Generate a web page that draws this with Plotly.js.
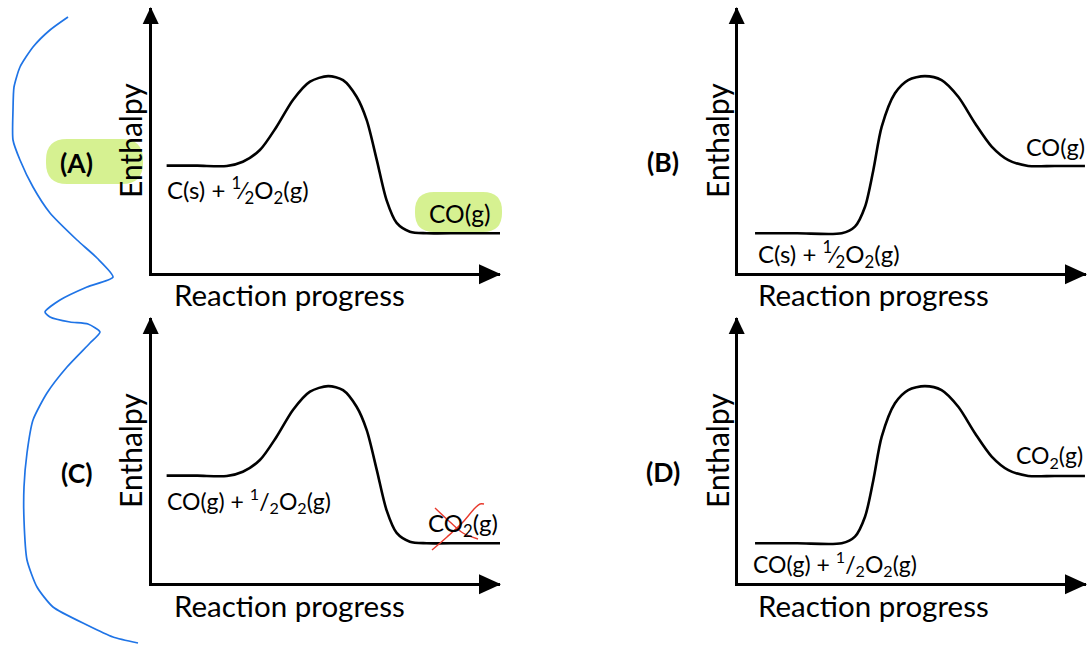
<!DOCTYPE html>
<html><head><meta charset="utf-8">
<script src="https://cdn.plot.ly/plotly-3.0.1.min.js"></script>
<style>html,body{margin:0;padding:0;background:#fff}</style>
</head><body><div id="chart" style="width:1087px;height:645px"></div>
<script>
// ---------- data ----------
const panelLetters = ['(A)', '(B)', '(C)', '(D)'];
const reactantLabels = ['C(s) + <sup>1</sup>⁄<sub>2</sub>O<sub>2</sub>(g)', 'C(s) + <sup>1</sup>⁄<sub>2</sub>O<sub>2</sub>(g)',
  'CO(g) + <sup>1</sup>/<sub>2</sub>O<sub>2</sub>(g)', 'CO(g) + <sup>1</sup>/<sub>2</sub>O<sub>2</sub>(g)'];
const productLabels = ['CO(g)', 'CO(g)', 'CO<sub>2</sub>(g)', 'CO<sub>2</sub>(g)'];
const xAxisLabel = 'Reaction progress';
const yAxisLabel = 'Enthalpy';

// exothermic-looking profile (panels A and C)
const exoProgress = [0.42, 1.30, 2.15, 2.61, 3.10, 3.58, 4.05, 4.54, 5.06, 5.49, 5.88, 6.17, 6.46, 6.74, 7.03, 7.41, 7.89, 8.90, 10.0];
const exoEnthalpy = [4.05, 4.05, 4.04, 4.20, 4.64, 5.52, 6.53, 7.22, 7.43, 7.28, 6.65, 5.77, 4.26, 2.75, 1.89, 1.56, 1.50, 1.50, 1.50];
// endothermic-looking profile (panels B and D)
const endoProgress = [0.49, 1.70, 2.98, 3.36, 3.65, 3.89, 4.13, 4.51, 4.89, 5.37, 5.85, 6.33, 6.81, 7.29, 7.77, 8.34, 9.10, 9.97];
const endoEnthalpy = [1.50, 1.50, 1.50, 1.75, 2.50, 3.89, 5.52, 6.78, 7.28, 7.43, 7.28, 6.65, 5.65, 4.77, 4.26, 4.04, 4.04, 4.04];

// hand-drawn blue bracket (page pixel units)
const scribbleX = [68, 50, 33, 20, 14, 13, 13, 20, 33, 50, 77, 97, 113, 87, 60, 45, 50, 70, 88, 100, 90, 67, 47, 33, 27, 24, 24, 27, 37, 53, 87, 113, 138];
const scribbleY = [17, 30, 47, 67, 87, 110, 140, 160, 187, 213, 240, 258, 277, 287, 300, 312, 317, 322, 324, 332, 343, 367, 393, 420, 453, 487, 520, 560, 587, 607, 625, 637, 643];
// red strike-out marks over CO2(g) in panel C (page pixel units)
const strike1X = [435, 450, 463, 478];
const strike1Y = [508, 522, 533, 539];
const strike2X = [432, 447, 463, 475, 480, 484];
const strike2Y = [550, 537, 522, 508, 504, 504];

// ---------- layout helpers ----------
const W = 1087, H = 645;
const px = x => x / W, py = y => 1 - y / H;
const FONT = 'Lato, "Open Sans", sans-serif';

// panel geometry: y-axis x position, x-axis y position, x-axis tip, y-axis tip
const panels = [
  {ax: 152, ay: 273, xt: 500, yt: 8, profile: 'exo'},
  {ax: 738, ay: 273, xt: 1086, yt: 8, profile: 'endo'},
  {ax: 152, ay: 583, xt: 500, yt: 318, profile: 'exo'},
  {ax: 738, ay: 583, xt: 1086, yt: 318, profile: 'endo'}
];
const letterPos = [[76, 163], [663, 162], [77, 473], [663, 472]];
const titleXPos = [[172, 295], [756, 295], [172, 605], [756, 605]];
const titleYPos = [[130, 141], [717, 141], [130, 451], [717, 451]];
const reactPos = [[165, 190], [756, 254], [165, 500], [751, 563]];
const reactSize = [24, 24, 23, 23];
const prodPos = [[427, 214], [1024, 147], [426, 524], [1014, 457]];
const prodSize = [24.5, 23.5, 24, 23];

const traces = [];
const layout = {
  width: W, height: H,
  margin: {l: 0, r: 0, t: 0, b: 0},
  paper_bgcolor: '#ffffff', plot_bgcolor: 'rgba(0,0,0,0)',
  showlegend: false,
  annotations: [], shapes: []
};

const LW = 2.6;
panels.forEach((p, i) => {
  const n = i + 1;
  const xa = 'xaxis' + (n === 1 ? '' : n), ya = 'yaxis' + (n === 1 ? '' : n);
  const xr = 'x' + (n === 1 ? '' : n), yr = 'y' + (n === 1 ? '' : n);
  layout[xa] = {domain: [px(p.ax), px(p.xt)], range: [0, 10], anchor: yr,
    showline: true, linewidth: LW, linecolor: '#000', showgrid: false, zeroline: false,
    showticklabels: false, ticks: '', fixedrange: true};
  layout[ya] = {domain: [py(p.ay), py(p.yt)], range: [0, 10], anchor: xr,
    showline: true, linewidth: LW, linecolor: '#000', showgrid: false, zeroline: false,
    showticklabels: false, ticks: '', fixedrange: true};
  const exo = p.profile === 'exo';
  traces.push({type: 'scatter', mode: 'lines', xaxis: xr, yaxis: yr,
    x: exo ? exoProgress : endoProgress, y: exo ? exoEnthalpy : endoEnthalpy,
    line: {color: '#000', width: LW, shape: 'spline', smoothing: 0.8}, hoverinfo: 'skip'});
  // arrow heads (paper refs so they are not clipped)
  layout.shapes.push({type: 'path', xref: 'paper', yref: 'paper', xsizemode: 'pixel', ysizemode: 'pixel',
    xanchor: px(p.xt), yanchor: py(p.ay + LW / 2), path: 'M1,0 L-21,10 L-21,-10 Z', fillcolor: '#000', line: {width: 0}});
  layout.shapes.push({type: 'path', xref: 'paper', yref: 'paper', xsizemode: 'pixel', ysizemode: 'pixel',
    xanchor: px(p.ax - LW / 2), yanchor: py(p.yt), path: 'M0,1 L-8,-16 L8,-16 Z', fillcolor: '#000', line: {width: 0}});
  // text
  layout.annotations.push({xref: 'paper', yref: 'paper', x: px(titleXPos[i][0]), y: py(titleXPos[i][1]),
    xanchor: 'left', yanchor: 'middle', showarrow: false, text: xAxisLabel,
    font: {family: FONT, size: 29.5, color: '#000'}});
  layout.annotations.push({xref: 'paper', yref: 'paper', x: px(titleYPos[i][0]), y: py(titleYPos[i][1]),
    xanchor: 'center', yanchor: 'middle', showarrow: false, text: yAxisLabel, textangle: -90,
    font: {family: FONT, size: 30, color: '#000'}});
  layout.annotations.push({xref: 'paper', yref: 'paper', x: px(letterPos[i][0]), y: py(letterPos[i][1]),
    xanchor: 'center', yanchor: 'middle', showarrow: false, text: '<b>' + panelLetters[i] + '</b>',
    font: {family: FONT, size: 26.5, color: '#000'}});
  layout.annotations.push({xref: 'paper', yref: 'paper', x: px(reactPos[i][0]), y: py(reactPos[i][1]),
    xanchor: 'left', yanchor: 'middle', showarrow: false, text: reactantLabels[i],
    font: {family: FONT, size: reactSize[i], color: '#000'}});
  layout.annotations.push({xref: 'paper', yref: 'paper', x: px(prodPos[i][0]), y: py(prodPos[i][1]),
    xanchor: 'left', yanchor: 'middle', showarrow: false, text: productLabels[i],
    font: {family: FONT, size: prodSize[i], color: '#000'}});
});

// overlay axis for hand annotations (page pixels)
layout.xaxis5 = {domain: [0, 1], range: [0, W], anchor: 'y5', visible: false, fixedrange: true};
layout.yaxis5 = {domain: [0, 1], range: [H, 0], anchor: 'x5', visible: false, fixedrange: true};
traces.push({type: 'scatter', mode: 'lines', xaxis: 'x5', yaxis: 'y5', x: scribbleX, y: scribbleY,
  line: {color: '#1f74e6', width: 1.7, shape: 'spline', smoothing: 0.6}, hoverinfo: 'skip'});
traces.push({type: 'scatter', mode: 'lines', xaxis: 'x5', yaxis: 'y5', x: strike1X, y: strike1Y,
  line: {color: '#e8392c', width: 1.4, shape: 'spline'}, hoverinfo: 'skip'});
traces.push({type: 'scatter', mode: 'lines', xaxis: 'x5', yaxis: 'y5', x: strike2X, y: strike2Y,
  line: {color: '#e8392c', width: 1.4, shape: 'spline'}, hoverinfo: 'skip'});

// green highlighter blobs (paper coords, below everything)
function pill(x0, y0, x1, y1, r) {
  const P = (x, y) => px(x).toFixed(5) + ',' + py(y).toFixed(5);
  return 'M' + P(x0 + r, y0) + ' L' + P(x1 - r, y0) + ' Q' + P(x1, y0) + ' ' + P(x1, y0 + r) +
    ' L' + P(x1, y1 - r) + ' Q' + P(x1, y1) + ' ' + P(x1 - r, y1) +
    ' L' + P(x0 + r, y1) + ' Q' + P(x0, y1) + ' ' + P(x0, y1 - r) +
    ' L' + P(x0, y0 + r) + ' Q' + P(x0, y0) + ' ' + P(x0 + r, y0) + ' Z';
}
layout.shapes.push({type: 'path', xref: 'paper', yref: 'paper', layer: 'below',
  path: pill(46, 139, 143, 184, 21), fillcolor: 'rgb(214,241,145)', line: {width: 0}});
layout.shapes.push({type: 'path', xref: 'paper', yref: 'paper', layer: 'below',
  path: pill(415, 192, 502, 232, 19), fillcolor: 'rgb(214,241,145)', line: {width: 0}});

Plotly.newPlot('chart', traces, layout, {staticPlot: true, displayModeBar: false});
</script></body></html>
